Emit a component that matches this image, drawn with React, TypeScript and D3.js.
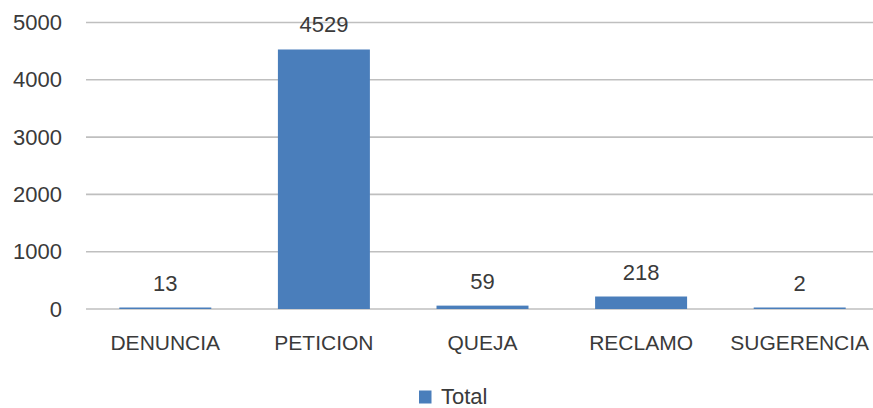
import React from "react";
import * as d3 from "d3";

const categories = ["DENUNCIA", "PETICION", "QUEJA", "RECLAMO", "SUGERENCIA"];
const values = [13, 4529, 59, 218, 2];
const yTicks = [0, 1000, 2000, 3000, 4000, 5000];
const seriesName = "Total";

const W = 873;
const H = 408;
const FONT = "'Liberation Sans', Arial, sans-serif";
const TEXT = "#3a3a3a";
const BAR = "#4a7ebb";

export default function App() {
  const x = d3
    .scaleBand<string>()
    .domain(categories)
    .range([86, 879])
    .paddingInner(0.42)
    .paddingOuter(0.21);
  const y = d3.scaleLinear().domain([0, 5000]).range([309, 22.5]);

  return (
    <svg
      width={W}
      height={H}
      style={{ position: "absolute", left: 0, top: 0, background: "#fff" }}
      fontFamily={FONT}
    >
      <rect x={0} y={0} width={W} height={H} fill="#fff" />
      {yTicks.map((t) => (
        <g key={t}>
          <line x1={86} x2={W} y1={y(t)} y2={y(t)} stroke="#bfbfbf" strokeWidth={1.6} />
          <text
            x={62}
            y={y(t)}
            textAnchor="end"
            dominantBaseline="central"
            fontSize={22}
            fill={TEXT}
          >
            {t}
          </text>
        </g>
      ))}
      {categories.map((c, i) => {
        const v = values[i];
        const bx = x(c)!;
        const bw = x.bandwidth();
        const top = y(v);
        const h = Math.max(y(0) - top, 1.5);
        return (
          <g key={c}>
            <rect x={bx} y={y(0) - h} width={bw} height={h} fill={BAR} />
            <text
              x={bx + bw / 2}
              y={y(0) - h - 17}
              textAnchor="middle"
              fontSize={22}
              fill={TEXT}
            >
              {v}
            </text>
            <text x={bx + bw / 2} y={350} textAnchor="middle" fontSize={21} fill={TEXT}>
              {c}
            </text>
          </g>
        );
      })}
      <rect x={419} y={390.5} width={12.5} height={13} fill={BAR} />
      <text x={441} y={403.5} fontSize={22} fill={TEXT}>
        {seriesName}
      </text>
    </svg>
  );
}
